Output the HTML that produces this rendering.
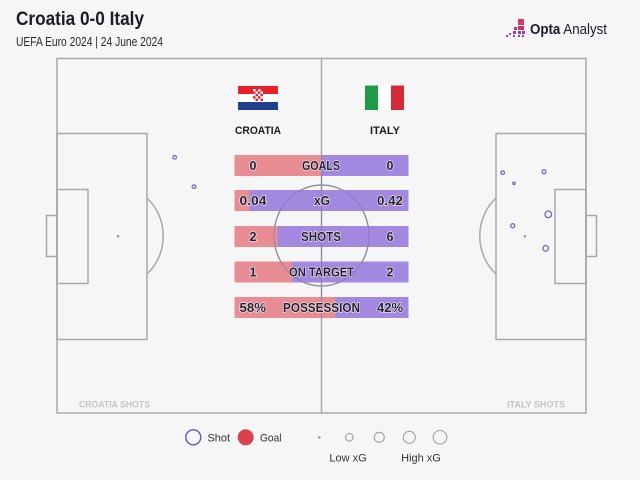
<!DOCTYPE html>
<html><head><meta charset="utf-8"><style>
html,body{margin:0;padding:0;background:#f6f6f6;}
svg{display:block;}
text{font-family:"Liberation Sans",sans-serif;}
</style></head><body>
<svg width="640" height="480" viewBox="0 0 640 480" xmlns="http://www.w3.org/2000/svg">
<rect width="640" height="480" fill="#f6f6f6"/>
<!-- title -->
<text x="16" y="25" font-size="19" font-weight="bold" fill="#1c1c24" textLength="128" lengthAdjust="spacingAndGlyphs">Croatia 0-0 Italy</text>
<text x="16" y="46" font-size="13" fill="#2a2a33" textLength="147" lengthAdjust="spacingAndGlyphs">UEFA Euro 2024 | 24 June 2024</text>
<!-- logo -->
<g>
<rect x="518" y="19" width="6" height="6" fill="#e0365a"/>
<rect x="518" y="26" width="6" height="4" fill="#c2307a"/>
<rect x="514" y="27" width="3" height="3" fill="#c2307a"/>
<rect x="518" y="31" width="3" height="3" fill="#9a3aa0"/>
<rect x="522" y="31" width="3" height="3" fill="#9a3aa0"/>
<rect x="513" y="31" width="3" height="3" fill="#b03590"/>
<rect x="509" y="33" width="2" height="2" fill="#a040a0"/>
<rect x="506" y="35" width="2" height="2" fill="#8a40b0"/>
<rect x="513" y="35" width="2" height="2" fill="#8a40b0"/>
<rect x="518" y="35" width="2" height="2" fill="#7a45b8"/>
<rect x="522" y="35" width="2" height="2" fill="#7a45b8"/>
<text x="530" y="34" font-size="14.5" fill="#1a1a2e" textLength="77" lengthAdjust="spacingAndGlyphs"><tspan font-weight="bold">Opta</tspan> Analyst</text>
</g>
<!-- pitch -->
<g fill="none" stroke="#a8a8a8" stroke-width="1.5">
<rect x="57" y="58.5" width="529" height="354.5"/>
<line x1="321.5" y1="58.5" x2="321.5" y2="413"/>
<ellipse cx="321.5" cy="235.5" rx="47.5" ry="50.5"/>
<rect x="57" y="133.5" width="90" height="206"/>
<rect x="57" y="189.5" width="31" height="94"/>
<rect x="46.5" y="215.5" width="10.5" height="41"/>
<path d="M147 198 A47.5 50.5 0 0 1 147 274"/>
<rect x="496" y="133.5" width="90" height="206"/>
<rect x="555" y="189.5" width="31" height="94"/>
<rect x="586" y="215.5" width="10.5" height="41"/>
<path d="M496 198 A47.5 50.5 0 0 0 496 274"/>
</g>
<circle cx="118" cy="236.3" r="1.3" fill="#999"/>
<circle cx="525" cy="236.3" r="1.3" fill="#999"/>
<!-- flags -->
<rect x="238" y="86" width="40" height="8" fill="#e8202a"/>
<rect x="238" y="94" width="40" height="8" fill="#ffffff"/>
<rect x="238" y="102" width="40" height="8" fill="#1f3f8f"/>
<rect x="253" y="89" width="10" height="12" fill="#e8202a"/>
<g fill="#fff"><rect x="253" y="89" width="2.5" height="2.4"/><rect x="258" y="89" width="2.5" height="2.4"/><rect x="255.5" y="91.4" width="2.5" height="2.4"/><rect x="260.5" y="91.4" width="2.5" height="2.4"/><rect x="253" y="93.8" width="2.5" height="2.4"/><rect x="258" y="93.8" width="2.5" height="2.4"/><rect x="255.5" y="96.2" width="2.5" height="2.4"/><rect x="260.5" y="96.2" width="2.5" height="2.4"/><rect x="253" y="98.6" width="2.5" height="2.4"/><rect x="258" y="98.6" width="2.5" height="2.4"/></g>
<rect x="365" y="85.5" width="13" height="24.5" fill="#1e9a48"/>
<rect x="378" y="85.5" width="13" height="24.5" fill="#ffffff"/>
<rect x="391" y="85.5" width="13" height="24.5" fill="#d52b36"/>
<text x="235" y="134" font-size="11" font-weight="bold" fill="#1c1c24" textLength="46" lengthAdjust="spacingAndGlyphs">CROATIA</text>
<text x="370" y="134" font-size="11" font-weight="bold" fill="#1c1c24" textLength="30" lengthAdjust="spacingAndGlyphs">ITALY</text>
<!-- bars -->
<g opacity="0.93">
<rect x="234.5" y="155" width="87" height="21" fill="#e8868c"/><rect x="321.5" y="155" width="87" height="21" fill="#9d80de"/>
<rect x="234.5" y="190" width="15" height="21" fill="#e8868c"/><rect x="249.5" y="190" width="159" height="21" fill="#9d80de"/>
<rect x="234.5" y="226" width="43" height="21" fill="#e8868c"/><rect x="277.5" y="226" width="131" height="21" fill="#9d80de"/>
<rect x="234.5" y="261.5" width="58" height="21" fill="#e8868c"/><rect x="292.5" y="261.5" width="116" height="21" fill="#9d80de"/>
<rect x="234.5" y="297" width="101" height="21" fill="#e8868c"/><rect x="335.5" y="297" width="73" height="21" fill="#9d80de"/>
</g>
<g fill="none" stroke="#8a7aa8" stroke-width="1" opacity="0.7">
<line x1="321.5" y1="155" x2="321.5" y2="318"/>
<ellipse cx="321.5" cy="235.5" rx="47.5" ry="50.5"/>
</g>
<g font-size="12.5" font-weight="bold" fill="#23202e" stroke="#f4eef8" stroke-width="1.2" paint-order="stroke">
<text x="253" y="170" text-anchor="middle">0</text><text x="302" y="170" textLength="38" lengthAdjust="spacingAndGlyphs">GOALS</text><text x="390" y="170" text-anchor="middle">0</text>
<text x="239.5" y="205" textLength="27" lengthAdjust="spacingAndGlyphs">0.04</text><text x="314" y="205" textLength="16" lengthAdjust="spacingAndGlyphs">xG</text><text x="377" y="205" textLength="26" lengthAdjust="spacingAndGlyphs">0.42</text>
<text x="253" y="241" text-anchor="middle">2</text><text x="301" y="241" textLength="40" lengthAdjust="spacingAndGlyphs">SHOTS</text><text x="390" y="241" text-anchor="middle">6</text>
<text x="253" y="276.5" text-anchor="middle">1</text><text x="289" y="276.5" textLength="65" lengthAdjust="spacingAndGlyphs">ON TARGET</text><text x="390" y="276.5" text-anchor="middle">2</text>
<text x="239.5" y="312" textLength="26.5" lengthAdjust="spacingAndGlyphs">58%</text><text x="283" y="312" textLength="77" lengthAdjust="spacingAndGlyphs">POSSESSION</text><text x="377" y="312" textLength="26" lengthAdjust="spacingAndGlyphs">42%</text>
</g>
<!-- shots -->
<g fill="none" stroke="#7a62c4" stroke-width="1.3">
<circle cx="174.7" cy="157.3" r="1.8"/>
<circle cx="194" cy="186.7" r="1.8"/>
<circle cx="502.7" cy="172.7" r="1.8"/>
<circle cx="544" cy="171.7" r="2"/>
<circle cx="514" cy="183.3" r="1.2"/>
<circle cx="548.3" cy="214.3" r="3.3"/>
<circle cx="512.7" cy="225.7" r="2"/>
<circle cx="545.7" cy="248.3" r="2.8"/>
</g>
<text x="79" y="407.5" font-size="9" font-weight="bold" fill="#c4c4c4" textLength="71" lengthAdjust="spacingAndGlyphs">CROATIA SHOTS</text>
<text x="507" y="407.5" font-size="9" font-weight="bold" fill="#c4c4c4" textLength="58" lengthAdjust="spacingAndGlyphs">ITALY SHOTS</text>
<!-- legend -->
<circle cx="193.3" cy="437.3" r="7.5" fill="none" stroke="#6a52b8" stroke-width="1.4"/>
<text x="207.5" y="441.5" font-size="11" fill="#333" textLength="22.5" lengthAdjust="spacingAndGlyphs">Shot</text>
<circle cx="245.7" cy="437.3" r="8" fill="#d9414f"/>
<text x="260" y="441.5" font-size="11" fill="#333" textLength="21.5" lengthAdjust="spacingAndGlyphs">Goal</text>
<g fill="none" stroke="#a0a0a0" stroke-width="1.1">
<circle cx="319.3" cy="437.3" r="0.8" fill="#a0a0a0"/>
<circle cx="349.3" cy="437.3" r="3.8"/>
<circle cx="379.3" cy="437.3" r="5"/>
<circle cx="409.3" cy="437.3" r="6"/>
<circle cx="440" cy="437.3" r="6.8"/>
</g>
<text x="348" y="461.5" font-size="11" fill="#333" text-anchor="middle">Low xG</text>
<text x="421" y="461.5" font-size="11" fill="#333" text-anchor="middle">High xG</text>
</svg>
</body></html>
